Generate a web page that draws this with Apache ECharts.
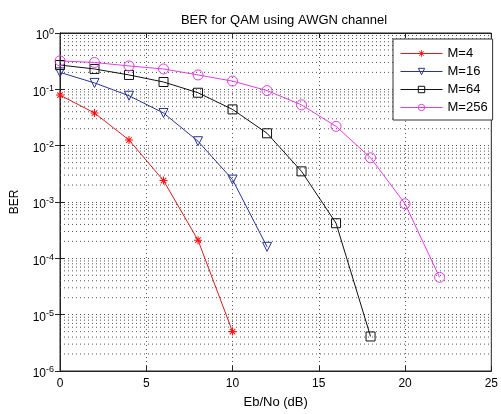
<!DOCTYPE html>
<html>
<head>
<meta charset="utf-8">
<script src="https://cdn.jsdelivr.net/npm/echarts@6/dist/echarts.min.js"></script>
<style>
  html, body { margin: 0; padding: 0; background: #fff; }
  #main { width: 501px; height: 414px; }
</style>
</head>
<body>
<div id="main"></div>
<script>
// Eb/No (dB) values, one list per curve
const ebnoM4 = [0, 2, 4, 6, 8, 10];
const ebnoM16 = [0, 2, 4, 6, 8, 10, 12];
const ebnoM64 = [0, 2, 4, 6, 8, 10, 12, 14, 16, 18];
const ebnoM256 = [0, 2, 4, 6, 8, 10, 12, 14, 16, 18, 20, 22];

// BER
const berM4 = [0.079, 0.038, 0.0126, 0.0024, 2.1e-4, 5e-6];
const berM16 = [0.20, 0.13, 0.077, 0.038, 0.012, 0.0025, 1.6e-4];
const berM64 = [0.27, 0.23, 0.18, 0.135, 0.087, 0.044, 0.0166, 0.0035, 4.2e-4, 4.1e-6];
const berM256 = [0.32, 0.30, 0.26, 0.23, 0.18, 0.14, 0.095, 0.053, 0.022, 0.0061, 9.3e-4, 4.6e-5];

const legendNames = ['M=4', 'M=16', 'M=64', 'M=256'];
const xTicks = [0, 5, 10, 15, 20, 25];
const yDecades = [-6, -5, -4, -3, -2, -1, 0];

// minor log grid lines 2..9 x 10^d
const minorY = [];
yDecades.slice(0, -1).forEach(function (d) {
  for (let k = 2; k <= 9; k++) minorY.push(k * Math.pow(10, d));
});

const zip = (xs, ys) => xs.map((x, i) => [x, ys[i]]);

const asterisk = 'path://M-1 -0.13L1 -0.13L1 0.13L-1 0.13Z' +
  'M-0.13 -1L0.13 -1L0.13 1L-0.13 1Z' +
  'M-0.6 -0.78L0.78 0.6L0.6 0.78L-0.78 -0.6Z' +
  'M-0.78 0.6L0.6 -0.78L0.78 -0.6L-0.6 0.78Z';

const font = 'Liberation Sans, Arial, sans-serif';
const dotted = () => ({ color: '#555', width: 1, type: [1, 3] });

function curve(name, xs, ys, color, symbol, size, extra) {
  return Object.assign({
    name: name,
    type: 'line',
    data: zip(xs, ys),
    symbol: symbol,
    symbolSize: size,
    lineStyle: { color: color, width: 1 },
    itemStyle: { color: 'rgba(255,255,255,0)', borderColor: color, borderWidth: 1 },
    emphasis: { disabled: true },
    z: 5
  }, extra || {});
}

// dotted minor grid line at each 2..9 x 10^d, spanning the x range
const minorSeries = minorY.map(v => ({
  type: 'line',
  data: [[xTicks[0], v], [xTicks[xTicks.length - 1], v]],
  symbol: 'none',
  silent: true,
  lineStyle: dotted(),
  emphasis: { disabled: true },
  z: 1
}));

const chart = echarts.init(document.getElementById('main'), null, { renderer: 'canvas' });

chart.setOption({
  animation: false,
  backgroundColor: '#fff',
  textStyle: { fontFamily: font },
  title: {
    text: 'BER for QAM using AWGN channel',
    left: 279,
    top: 9,
    textAlign: 'center',
    textStyle: { fontSize: 13, fontWeight: 'normal', color: '#000', fontFamily: font }
  },
  grid: {
    left: 60, right: 3, top: 33, bottom: 37,
    show: true, borderColor: '#222', borderWidth: 1, backgroundColor: '#fff'
  },
  legend: {
    data: legendNames,
    orient: 'vertical',
    left: 393,
    top: 39,
    padding: [8, 5, 6, 7],
    itemGap: 5,
    itemWidth: 42,
    itemHeight: 8,
    backgroundColor: '#fff',
    borderColor: '#333',
    borderWidth: 1,
    borderRadius: 0,
    lineStyle: { width: 1 },
    itemStyle: { borderWidth: 1 },
    textStyle: { fontSize: 13, color: '#000', fontFamily: font }
  },
  xAxis: [{
    type: 'value',
    min: xTicks[0],
    max: xTicks[xTicks.length - 1],
    interval: 5,
    name: 'Eb/No (dB)',
    nameLocation: 'middle',
    nameGap: 25,
    nameTextStyle: { fontSize: 13, color: '#000' },
    axisLine: { show: true, lineStyle: { color: '#222' } },
    axisTick: { inside: true, length: 5, lineStyle: { color: '#222' } },
    axisLabel: { fontSize: 12, color: '#000', margin: 7 },
    splitLine: { show: true, lineStyle: dotted() }
  }, {
    type: 'value',
    position: 'top',
    min: xTicks[0],
    max: xTicks[xTicks.length - 1],
    interval: 5,
    axisLine: { show: true, lineStyle: { color: '#222' } },
    axisTick: { inside: true, length: 5, lineStyle: { color: '#222' } },
    axisLabel: { show: false },
    splitLine: { show: false }
  }],
  yAxis: [{
    type: 'log',
    logBase: 10,
    min: Math.pow(10, yDecades[0]),
    max: Math.pow(10, yDecades[yDecades.length - 1]),
    name: 'BER',
    nameLocation: 'middle',
    nameGap: 39,
    nameRotate: 90,
    nameTextStyle: { fontSize: 12, color: '#000' },
    axisLine: { show: true, lineStyle: { color: '#222' } },
    axisTick: { inside: true, length: 5, lineStyle: { color: '#222' } },
    axisLabel: {
      color: '#000',
      margin: 6,
      padding: [6, 0, 0, 0],
      formatter: function (v) {
        return '{b|10}{e|' + Math.round(Math.log10(v)) + '}';
      },
      rich: {
        b: { fontSize: 12, color: '#000', fontFamily: font },
        e: { fontSize: 9, color: '#000', fontFamily: font, padding: [0, 0, 8, 0] }
      }
    },
    splitLine: { show: true, lineStyle: dotted() }
  }, {
    type: 'log',
    logBase: 10,
    position: 'right',
    min: Math.pow(10, yDecades[0]),
    max: Math.pow(10, yDecades[yDecades.length - 1]),
    axisLine: { show: true, lineStyle: { color: '#222' } },
    axisTick: { inside: true, length: 5, lineStyle: { color: '#222' } },
    axisLabel: { show: false },
    splitLine: { show: false }
  }],
  series: minorSeries.concat([
    curve('M=4', ebnoM4, berM4, '#d42020', asterisk, 8,
      { itemStyle: { color: '#ff1010', borderWidth: 0 } }),
    curve('M=16', ebnoM16, berM16, '#2a3590', 'triangle', 9, { symbolRotate: 180 }),
    curve('M=64', ebnoM64, berM64, '#111', 'rect', 9),
    curve('M=256', ebnoM256, berM256, '#e040e0', 'circle', 10)
  ])
});
</script>
</body>
</html>
